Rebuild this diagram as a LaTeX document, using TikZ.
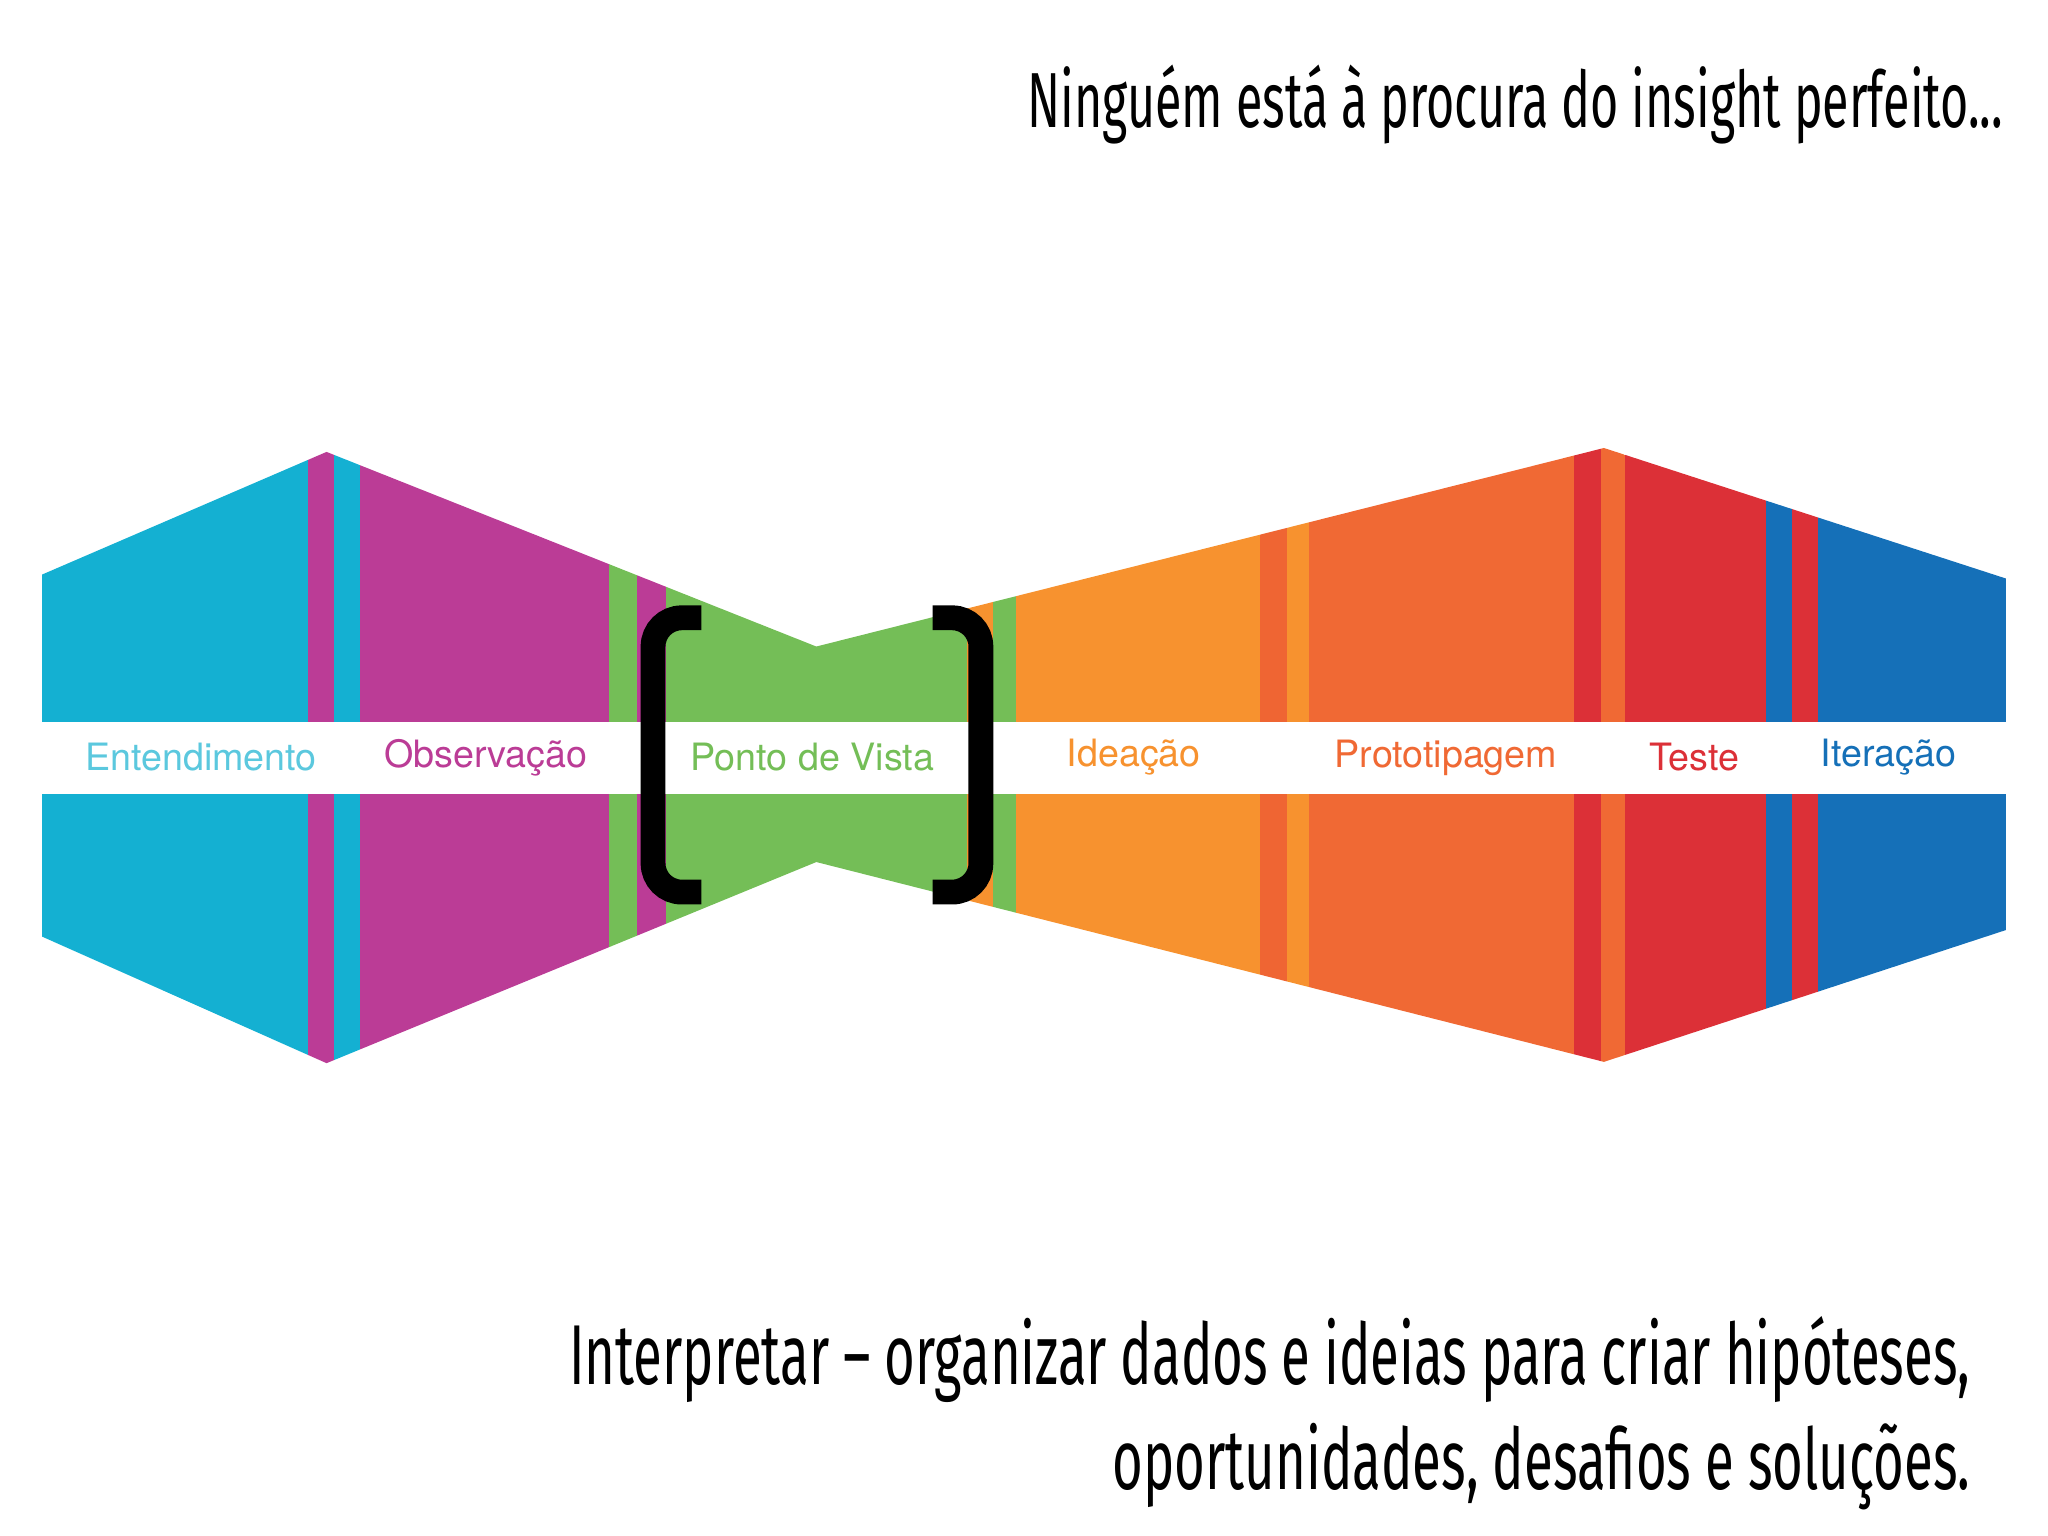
\documentclass[tikz,border=0pt]{standalone}
\usepackage{fontspec}
\setsansfont{TeX Gyre Heros}
\newfontfamily\titlefont[FakeStretch=0.62]{Fira Sans}
\definecolor{ccyan}{HTML}{14B0D2}
\definecolor{cmag}{HTML}{BB3C96}
\definecolor{cgreen}{HTML}{74BE57}
\definecolor{corange}{HTML}{F7922F}
\definecolor{cdor}{HTML}{EF6533}
\definecolor{cored}{HTML}{F06934}
\definecolor{cred}{HTML}{DC3037}
\definecolor{cblue}{HTML}{1570B8}
\definecolor{clcyan}{HTML}{5BC8DE}
\tikzset{lbl/.style={font=\sffamily\fontsize{8.2}{10}\selectfont,anchor=center},
 ttl/.style={font=\titlefont\fontsize{17}{21}\selectfont},
 brk/.style={line width=0.19cm,black,rounded corners=0.22cm}}
\begin{document}
\begin{tikzpicture}[x=0.01cm,y=-0.01cm]
\useasboundingbox (0,0) rectangle (1568,1176);
\begin{scope}
\clip (32,440) -- (250,346) -- (625,495) -- (1228,343) -- (1536,443) -- (1536,712) -- (1228,813) -- (625,660) -- (250,814) -- (32,717) -- cycle;
\foreach \a/\b/\c in {32/236/ccyan,236/256/cmag,256/276/ccyan,276/466/cmag,466/488/cgreen,488/510/cmag,510/740/cgreen,740/760/corange,760/778/cgreen,778/965/corange,965/985/cdor,985/1002/corange,1002/1205/cored,1205/1226/cred,1226/1244/cored,1244/1352/cred,1352/1372/cblue,1372/1392/cred,1392/1536/cblue}
  \fill[\c] (\a,300) rectangle (\b,850);
\end{scope}
\fill[white] (32,553) rectangle (1536,608);
\node[lbl,text=clcyan] (e) at (154,580) {Entendimento};
\node[lbl,text=cmag] (o) at (372,580) {Observação};
\node[lbl,text=cgreen] (p) at (622,580) {Ponto de Vista};
\node[lbl,text=corange] (i) at (868,580) {Ideação};
\node[lbl,text=cored] (pr) at (1107,580) {Prototipagem};
\node[lbl,text=cred] (t) at (1297,580) {Teste};
\node[lbl,text=cblue] (it) at (1446,580) {Iteração};
\draw[brk] (537,473) -- (500,473) -- (500,683) -- (537,683);
\draw[brk] (714,473) -- (751,473) -- (751,683) -- (714,683);
\node[ttl,anchor=east] (h) at (1546,80) {Ninguém está à procura do insight perfeito...};
\node[ttl,anchor=east,align=right,font=\titlefont\fontsize{18.5}{23}\selectfont] (b) at (1521,1082) {Interpretar – organizar dados e ideias para criar hipóteses,\\oportunidades, desafios e soluções.};
\end{tikzpicture}
\end{document}
